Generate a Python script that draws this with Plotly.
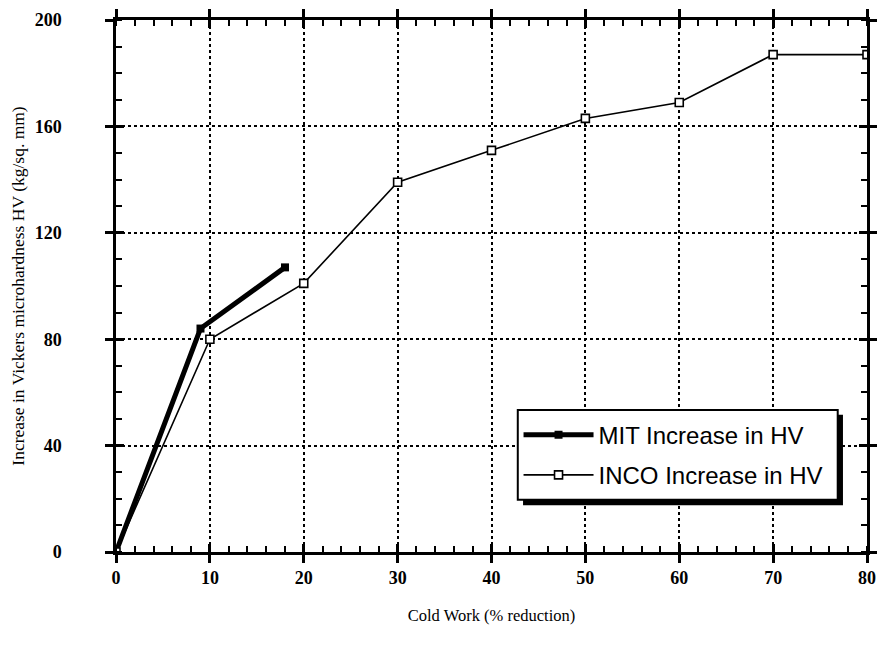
import plotly.graph_objects as go

# Data
mit_x = [0, 9, 18]
mit_y = [0, 84, 107]
inco_x = [0, 10, 20, 30, 40, 50, 60, 70, 80]
inco_y = [0, 80, 101, 139, 151, 163, 169, 187, 187]
x_ticks = [0, 10, 20, 30, 40, 50, 60, 70, 80]
y_ticks = [0, 40, 80, 120, 160, 200]

XR = [0, 80]
YR = [0, 200]

fig = go.Figure()
fig.add_trace(go.Scatter(
    x=mit_x, y=mit_y, mode="lines+markers", name="MIT Increase in HV",
    legendgroup="a",
    line=dict(color="black", width=5),
    marker=dict(symbol="square", size=8, color="black"),
))
fig.add_trace(go.Scatter(
    x=inco_x, y=inco_y, mode="lines+markers", name="INCO Increase in HV",
    legendgroup="b",
    line=dict(color="black", width=1.6),
    marker=dict(symbol="square", size=8, color="white",
                line=dict(color="black", width=1.6)),
))
# empty trace to materialize overlay axes (inside major ticks)
fig.add_trace(go.Scatter(x=[], y=[], xaxis="x2", yaxis="y2", showlegend=False,
                         hoverinfo="skip"))

tickfont = dict(family="Liberation Serif", size=18, color="black", weight="bold")
fig.update_layout(
    width=877, height=657,
    paper_bgcolor="white", plot_bgcolor="white",
    margin=dict(l=116, r=10, t=20, b=105),
    showlegend=True,
    legend=dict(
        x=0.536, y=0.262, xanchor="left", yanchor="top",
        bgcolor="rgba(0,0,0,0)", borderwidth=0,
        font=dict(family="Liberation Sans", size=24, color="black"),
        traceorder="grouped", tracegroupgap=6, itemwidth=70,
    ),
    xaxis=dict(
        range=XR, tickvals=x_ticks, ticktext=[str(v) for v in x_ticks],
        showline=True, linecolor="black", linewidth=2.5, mirror="ticks",
        ticks="outside", ticklen=8, tickwidth=2.5, tickcolor="black",
        showgrid=True, gridcolor="black", griddash="dot", gridwidth=1.5,
        minor=dict(dtick=2, tick0=0, ticks="inside", ticklen=6, tickwidth=1.5,
                   tickcolor="black", showgrid=False),
        tickfont=tickfont, ticklabelstandoff=0, zeroline=False, automargin=False,
        title=dict(text="Cold Work (% reduction)", standoff=23,
                   font=dict(family="Liberation Serif", size=16.5, color="black")),
    ),
    yaxis=dict(
        range=YR, tickvals=y_ticks, ticktext=[str(v) for v in y_ticks],
        showline=True, linecolor="black", linewidth=2.5, mirror="ticks",
        ticks="outside", ticklen=8, tickwidth=2.5, tickcolor="black",
        showgrid=True, gridcolor="black", griddash="dot", gridwidth=1.5,
        minor=dict(dtick=10, tick0=0, ticks="inside", ticklen=6, tickwidth=1.5,
                   tickcolor="black", showgrid=False),
        tickfont=tickfont, ticklabelstandoff=40, zeroline=False, automargin=False,
        title=dict(text="Increase in Vickers microhardness HV (kg/sq. mm)", standoff=6,
                   font=dict(family="Liberation Serif", size=17.5, color="black")),
    ),
    xaxis2=dict(range=XR, overlaying="x", anchor="y2", tickvals=x_ticks,
                showticklabels=False, ticks="inside", ticklen=8, tickwidth=2.5,
                tickcolor="black", mirror="ticks", showline=False, showgrid=False,
                zeroline=False),
    yaxis2=dict(range=YR, overlaying="y", anchor="x2", tickvals=y_ticks,
                showticklabels=False, ticks="inside", ticklen=8, tickwidth=2.5,
                tickcolor="black", mirror="ticks", showline=False, showgrid=False,
                zeroline=False),
    shapes=[
        dict(type="rect", xref="paper", yref="paper",
             x0=0.542, x1=0.968, y0=0.088, y1=0.258,
             fillcolor="black", line=dict(width=0), layer="above"),
        dict(type="rect", xref="paper", yref="paper",
             x0=0.535, x1=0.961, y0=0.098, y1=0.267,
             fillcolor="white", line=dict(color="black", width=2), layer="above"),
    ],
)
fig.write_html("out.html", config={"displayModeBar": False},
               post_script="document.body.style.margin='0px';")
